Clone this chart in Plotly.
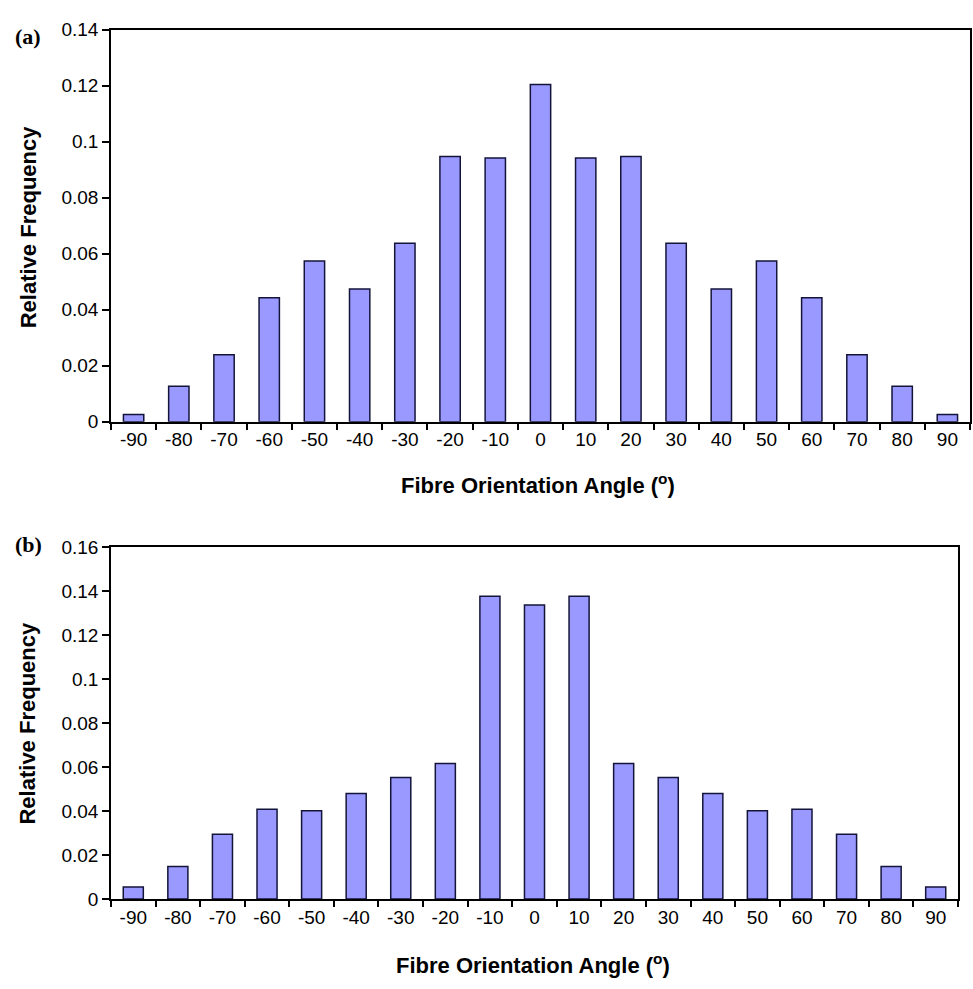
import plotly.graph_objects as go

angles = ["-90", "-80", "-70", "-60", "-50", "-40", "-30", "-20", "-10", "0",
          "10", "20", "30", "40", "50", "60", "70", "80", "90"]
freq_a = [0.0026, 0.0127, 0.0239, 0.0443, 0.0574, 0.0474, 0.0637, 0.0947, 0.0942, 0.1204,
          0.0942, 0.0947, 0.0637, 0.0474, 0.0574, 0.0443, 0.0239, 0.0127, 0.0026]
freq_b = [0.0055, 0.0148, 0.0294, 0.0408, 0.0401, 0.0479, 0.0552, 0.0616, 0.1376, 0.1336,
          0.1376, 0.0616, 0.0552, 0.0479, 0.0401, 0.0408, 0.0294, 0.0148, 0.0055]
yticks_a = [0, 0.02, 0.04, 0.06, 0.08, 0.1, 0.12, 0.14]
yticks_b = [0, 0.02, 0.04, 0.06, 0.08, 0.1, 0.12, 0.14, 0.16]
ytext_a = ["0", "0.02", "0.04", "0.06", "0.08", "0.1", "0.12", "0.14"]
ytext_b = ["0", "0.02", "0.04", "0.06", "0.08", "0.1", "0.12", "0.14", "0.16"]

W, H = 973, 989
FONT = "Liberation Sans, Arial, sans-serif"
bar_style = dict(marker=dict(color="#9999FF", line=dict(color="#14143a", width=1.5)),
                 showlegend=False, hoverinfo="x+y")

fig = go.Figure()
fig.add_trace(go.Bar(x=angles, y=freq_a, xaxis="x", yaxis="y", **bar_style))
fig.add_trace(go.Bar(x=angles, y=freq_b, xaxis="x2", yaxis="y2", **bar_style))

def px_x(p):
    return p / W

def px_y(p):
    return 1 - p / H

xcommon = dict(type="category", tickson="boundaries", ticks="outside", ticklen=6,
               tickwidth=1.5, tickcolor="black", showline=True, linecolor="black",
               linewidth=1.5, mirror=True, showgrid=False, zeroline=False,
               tickfont=dict(family=FONT, size=19, color="black"))
ycommon = dict(ticks="outside", ticklen=7, tickwidth=1.5, tickcolor="black",
               showline=True, linecolor="black", linewidth=1.5, mirror=True,
               showgrid=False, zeroline=False,
               tickfont=dict(family=FONT, size=19, color="black"))

fig.update_layout(
    width=W, height=H,
    margin=dict(l=0, r=0, t=0, b=0),
    paper_bgcolor="white", plot_bgcolor="white",
    bargap=0.55,
    xaxis=dict(domain=[px_x(111), px_x(970)], anchor="y", **xcommon),
    yaxis=dict(domain=[px_y(420.7), px_y(20)], anchor="x", range=[0, 0.14],
               tickvals=yticks_a, ticktext=ytext_a, **ycommon),
    xaxis2=dict(domain=[px_x(111), px_x(958)], anchor="y2", **xcommon),
    yaxis2=dict(domain=[px_y(908.3), px_y(548.5)], anchor="x2", range=[0, 0.16],
                tickvals=yticks_b, ticktext=ytext_b, **ycommon),
)

title_font = dict(family=FONT, size=22, color="black")
label_font = dict(family="Liberation Serif, Times New Roman, serif", size=22, color="black")
annos = [
    dict(text="<b>Relative Frequency</b>", x=px_x(28), y=px_y(222), textangle=-90, font=title_font),
    dict(text="<b>Fibre Orientation Angle (<sup>o</sup>)</b>", x=px_x(538), y=px_y(484), font=title_font),
    dict(text="<b>Relative Frequency</b>", x=px_x(28), y=px_y(729), textangle=-90, font=title_font),
    dict(text="<b>Fibre Orientation Angle (<sup>o</sup>)</b>", x=px_x(533), y=px_y(975), font=title_font),
    dict(text="<b>(a)</b>", x=px_x(28), y=px_y(27), font=label_font),
    dict(text="<b>(b)</b>", x=px_x(28), y=px_y(546), font=label_font),
]
for a in annos:
    fig.add_annotation(xref="paper", yref="paper", showarrow=False,
                       xanchor="center", yanchor="middle", **a)

fig.write_html("out.html", config={"displayModeBar": False},
               post_script="document.body.style.margin='0';")
